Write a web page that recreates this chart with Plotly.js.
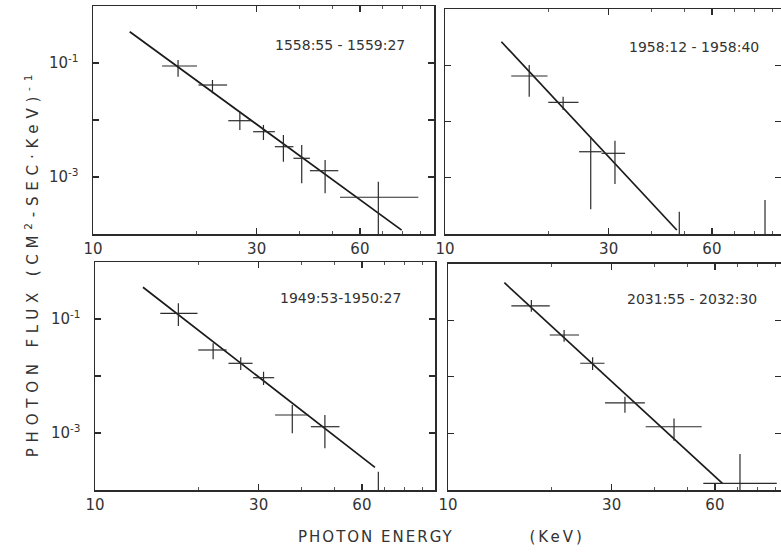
<!DOCTYPE html>
<html><head><meta charset="utf-8">
<script src="https://cdn.plot.ly/plotly-3.0.1.min.js"></script>
<style>body{margin:0;background:#fff}#c{width:781px;height:552px}</style>
</head><body><div id="c"></div>
<script>
// ---- data ----
const xTickVals = [10, 30, 60];
const xTickText = ["10", "30", "60"];
const xMinorVals = [20, 40, 50, 70, 80, 90];
const yTickVals = [0.1, 0.001];
const yTickText = ["10<sup>-1</sup>", "10<sup>-3</sup>"];
const yUnlabeledTicks = [0.01];
const panelLabels = ["1558:55 - 1559:27", "1958:12 - 1958:40", "1949:53-1950:27", "2031:55 - 2032:30"];

const p1E   = [17.7, 22.3, 26.8, 31.4, 35.9, 40.6, 47.5, 67.9];
const p1Elo = [15.9, 20.3, 24.8, 29.3, 33.9, 38.4, 42.9, 52.5];
const p1Ehi = [20.1, 24.6, 29.0, 33.9, 38.4, 42.9, 51.9, 88.8];
const p1F   = [0.0886, 0.0411, 0.00972, 0.00623, 0.00340, 0.00213, 0.00129, 0.000441];
const p1Flo = [0.0575, 0.0294, 0.00668, 0.00446, 0.00185, 0.000775, 0.000518, 0.00008];
const p1Fhi = [0.113, 0.0503, 0.0140, 0.00817, 0.00546, 0.00364, 0.00199, 0.000827];
const p1FitE = [12.8, 79.4];
const p1FitF = [0.354, 0.000117];
const p1UlE = [];
const p1UlF = [];

const p2E   = [17.6, 22.1, 26.6, 31.3];
const p2Elo = [15.6, 20.0, 24.6, 28.6];
const p2Ehi = [19.9, 24.5, 28.6, 33.5];
const p2F   = [0.0644, 0.0219, 0.00290, 0.00272];
const p2Flo = [0.0276, 0.0160, 0.000275, 0.000774];
const p2Fhi = [0.101, 0.0276, 0.00537, 0.00456];
const p2FitE = [14.6, 47.4];
const p2FitF = [0.262, 0.000118];
const p2UlE = [48.2, 85.7];
const p2UlF = [0.000249, 0.000402];

const p3E   = [17.5, 22.1, 26.6, 31.0, 37.6, 46.8];
const p3Elo = [15.5, 20.0, 24.5, 28.9, 33.5, 42.6];
const p3Ehi = [19.9, 24.2, 28.8, 33.3, 41.9, 51.6];
const p3F   = [0.126, 0.0286, 0.0167, 0.00934, 0.00207, 0.00129];
const p3Flo = [0.0754, 0.0196, 0.0127, 0.00695, 0.000988, 0.000539];
const p3Fhi = [0.188, 0.0375, 0.0213, 0.0119, 0.00310, 0.00207];
const p3FitE = [13.8, 65.5];
const p3FitF = [0.360, 0.000250];
const p3UlE = [67.0];
const p3UlF = [0.000209];

const p4E   = [17.5, 21.8, 26.4, 32.8, 45.6, 71.0];
const p4Elo = [15.3, 19.8, 24.3, 28.7, 37.7, 55.5];
const p4Ehi = [19.8, 24.1, 28.6, 37.5, 54.9, 90.9];
const p4F   = [0.178, 0.0546, 0.0173, 0.00347, 0.00131, 0.000131];
const p4Flo = [0.141, 0.0415, 0.0131, 0.00231, 0.00074, 0.00008];
const p4Fhi = [0.227, 0.0668, 0.0220, 0.00443, 0.00184, 0.000431];
const p4FitE = [14.6, 63.1];
const p4FitF = [0.458, 0.000131];
const p4UlE = [];
const p4UlF = [];

const yBottom = 1e-4; // axis bottom (range -4 .. 0)

// ---- build ----
const INK = '#2b2b2b';
const panels = [
  {E:p1E,Elo:p1Elo,Ehi:p1Ehi,F:p1F,Flo:p1Flo,Fhi:p1Fhi,fE:p1FitE,fF:p1FitF,uE:p1UlE,uF:p1UlF},
  {E:p2E,Elo:p2Elo,Ehi:p2Ehi,F:p2F,Flo:p2Flo,Fhi:p2Fhi,fE:p2FitE,fF:p2FitF,uE:p2UlE,uF:p2UlF},
  {E:p3E,Elo:p3Elo,Ehi:p3Ehi,F:p3F,Flo:p3Flo,Fhi:p3Fhi,fE:p3FitE,fF:p3FitF,uE:p3UlE,uF:p3UlF},
  {E:p4E,Elo:p4Elo,Ehi:p4Ehi,F:p4F,Flo:p4Flo,Fhi:p4Fhi,fE:p4FitE,fF:p4FitF,uE:p4UlE,uF:p4UlF}
];
const traces = [];
panels.forEach((p, i) => {
  const xa = i === 0 ? 'x' : 'x' + (i + 1);
  const ya = i === 0 ? 'y' : 'y' + (i + 1);
  traces.push({
    type: 'scatter', mode: 'lines', x: p.fE, y: p.fF, xaxis: xa, yaxis: ya,
    line: {color: '#1a1a1a', width: 1.7}, hoverinfo: 'skip', showlegend: false
  });
  traces.push({
    type: 'scatter', mode: 'markers', x: p.E, y: p.F, xaxis: xa, yaxis: ya,
    marker: {size: 1, color: 'rgba(0,0,0,0)'}, showlegend: false,
    error_x: {type: 'data', symmetric: false,
      array: p.Ehi.map((v, k) => v - p.E[k]), arrayminus: p.E.map((v, k) => v - p.Elo[k]),
      color: INK, thickness: 1.2, width: 0},
    error_y: {type: 'data', symmetric: false,
      array: p.Fhi.map((v, k) => v - p.F[k]), arrayminus: p.F.map((v, k) => v - p.Flo[k]),
      color: INK, thickness: 1.2, width: 0}
  });
  if (p.uE.length) {
    const ux = [], uy = [];
    p.uE.forEach((e, k) => { ux.push(e, e, null); uy.push(p.uF[k], yBottom, null); });
    traces.push({type: 'scatter', mode: 'lines', x: ux, y: uy, xaxis: xa, yaxis: ya,
      line: {color: INK, width: 1.2}, hoverinfo: 'skip', showlegend: false, cliponaxis: true});
  }
});

const W = 781, H = 552;
const boxes = [ // left, right, top, bottom in px
  [93, 434, 6, 234],
  [445, 781, 9, 234],
  [95, 435, 262, 490],
  [448, 781, 263.5, 490]
];
const perDecade = 343;
const tickFont = {family: 'DejaVu Sans, sans-serif', size: 15, color: '#333'};
const layout = {
  width: W, height: H, margin: {l: 0, r: 0, t: 0, b: 0},
  paper_bgcolor: '#fff', plot_bgcolor: '#fff', showlegend: false,
  font: tickFont, annotations: []
};
boxes.forEach((b, i) => {
  const sx = i === 0 ? '' : String(i + 1);
  const xr = [1, 1 + (b[1] - b[0]) / perDecade];
  layout['xaxis' + sx] = {
    type: 'log', range: xr, domain: [b[0] / W, b[1] / W], anchor: 'y' + sx,
    tickvals: xTickVals, ticktext: xTickText, ticks: 'inside', ticklen: 6,
    tickcolor: INK, tickwidth: 1.2, showline: true, linecolor: INK, linewidth: 1.5,
    mirror: 'allticks', showgrid: false, zeroline: false, tickfont: tickFont,
    minor: {tickvals: xMinorVals, ticks: 'inside', ticklen: 3, tickcolor: '#555', tickwidth: 1, showgrid: false}
  };
  layout['yaxis' + sx] = {
    type: 'log', range: [-4, 0], domain: [1 - b[3] / H, 1 - b[2] / H], anchor: 'x' + sx,
    tickvals: yTickVals, ticktext: yTickText, ticks: 'inside', ticklen: 6,
    tickcolor: INK, tickwidth: 1.2, showline: true, linecolor: INK, linewidth: 1.5,
    mirror: 'allticks', showgrid: false, zeroline: false, tickfont: tickFont,
    showticklabels: (i === 0 || i === 2), ticklabelstandoff: 10,
    minor: {tickvals: yUnlabeledTicks, ticks: 'inside', ticklen: 6, tickcolor: INK, tickwidth: 1.2, showgrid: false}
  };
});
const labelPos = [[340, 45], [694, 47], [340, 298], [692, 299]];
panelLabels.forEach((t, i) => {
  layout.annotations.push({text: t, xref: 'paper', yref: 'paper',
    x: labelPos[i][0] / W, y: 1 - labelPos[i][1] / H, showarrow: false,
    xanchor: 'center', yanchor: 'middle',
    font: {family: 'DejaVu Sans, sans-serif', size: 14, color: '#333'}});
});
layout.annotations.push({text: 'PHOTON FLUX (CM<sup>2</sup>-SEC·KeV)<sup>-1</sup>', xref: 'paper', yref: 'paper',
  x: 32 / W, y: 1 - 263 / H, showarrow: false, textangle: -90, xanchor: 'center', yanchor: 'middle',
  font: {family: 'DejaVu Sans, sans-serif', size: 15, color: '#333'}});
layout.annotations.push({text: 'PHOTON ENERGY', xref: 'paper', yref: 'paper',
  x: 376 / W, y: 1 - 537 / H, showarrow: false, xanchor: 'center', yanchor: 'middle',
  font: {family: 'DejaVu Sans, sans-serif', size: 15, color: '#333'}});
layout.annotations.push({text: '(KeV)', xref: 'paper', yref: 'paper',
  x: 557 / W, y: 1 - 537 / H, showarrow: false, xanchor: 'center', yanchor: 'middle',
  font: {family: 'DejaVu Sans, sans-serif', size: 15, color: '#333'}});

Plotly.newPlot('c', traces, layout, {staticPlot: true}).then(() => {
  const ann = document.querySelectorAll('.annotation-text');
  const spacing = [0, 0, 0, 0, 5.8, 2, 3];
  ann.forEach((el, k) => { if (spacing[k]) el.style.letterSpacing = spacing[k] + 'px'; });
});
</script></body></html>
